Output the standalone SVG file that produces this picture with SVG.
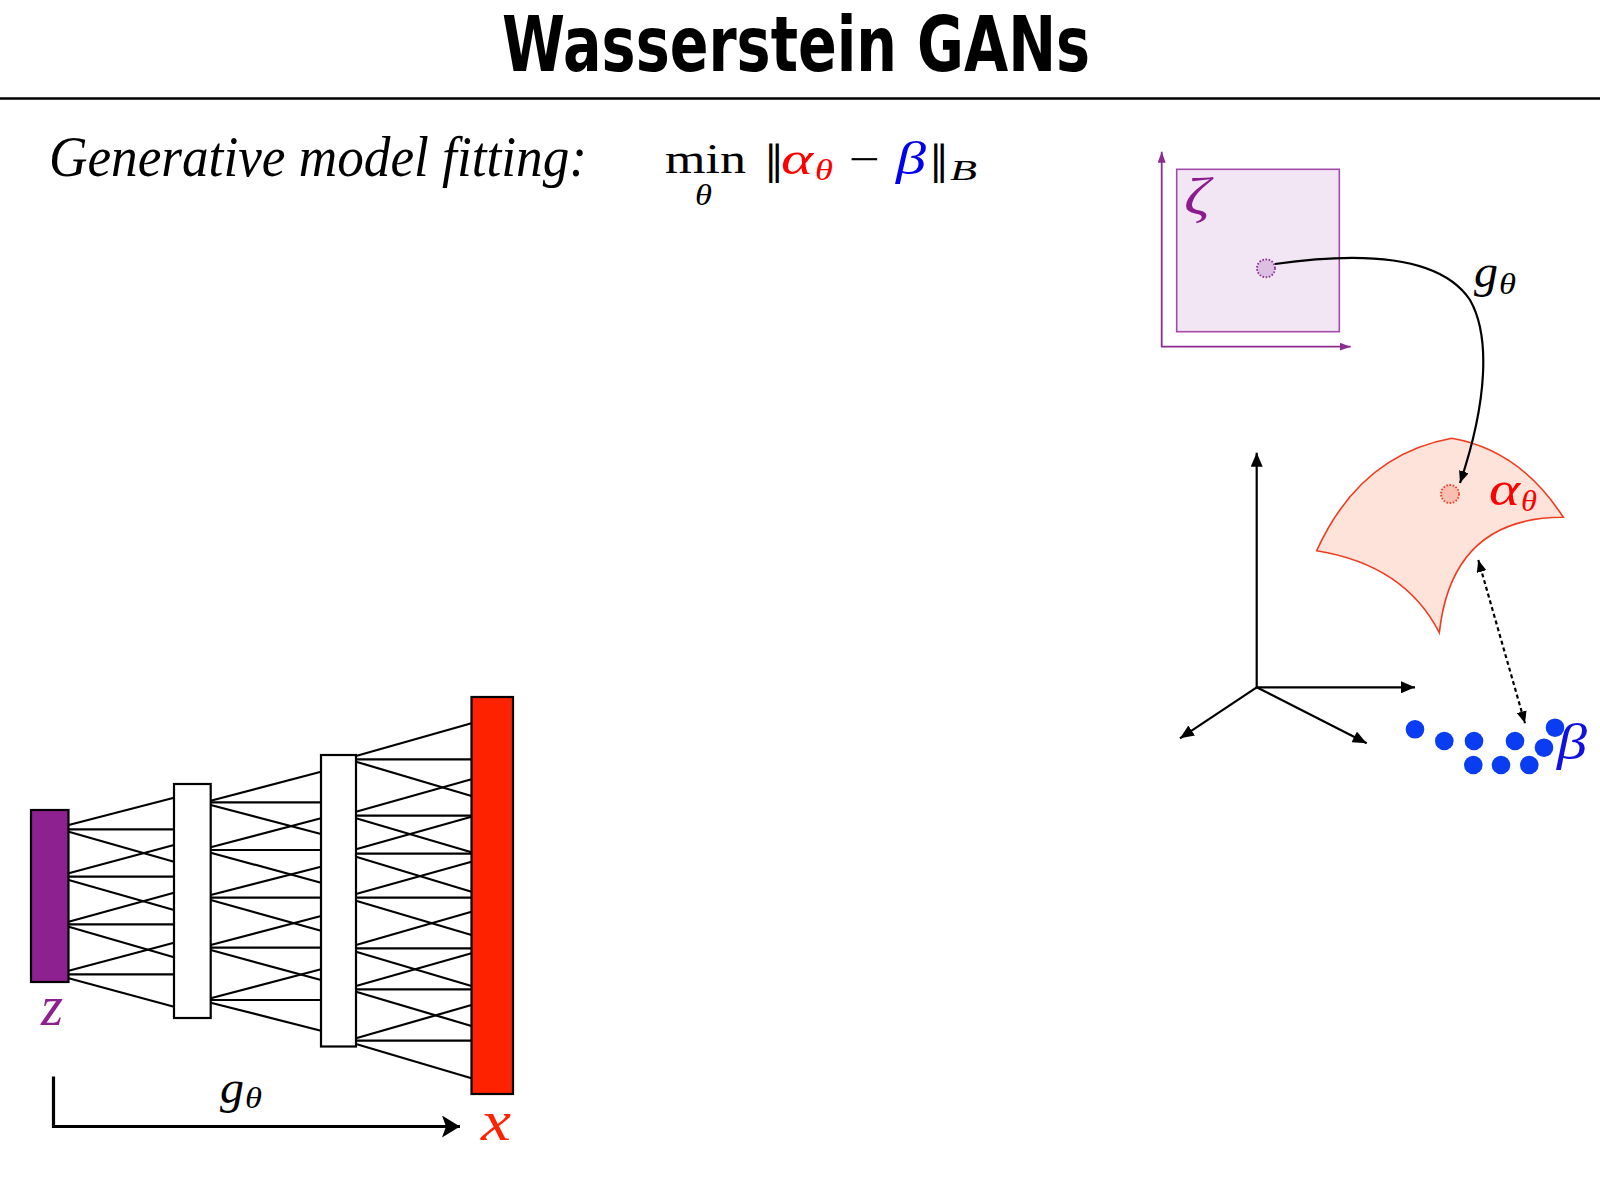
<svg xmlns="http://www.w3.org/2000/svg" width="1600" height="1200" viewBox="0 0 1600 1200">
<style>
.title{font-family:"DejaVu Sans","Open Sans",sans-serif;font-weight:bold;fill:#000}
.it{font-family:"Liberation Serif","Times New Roman",serif;font-style:italic}
.rm{font-family:"Liberation Serif","Times New Roman",serif}
.nrm{font-family:"DejaVu Serif","Liberation Serif",serif}
.net line{stroke:#000;stroke-width:2.2}
.layer{stroke:#000;stroke-width:2.2}
.ax{stroke:#000;stroke-width:2.2;fill:none}
.pax{stroke:#8B2C8F;stroke-width:1.8;fill:none}
.bdot{fill:#0A3CF2}
</style>
<defs>
<marker id="ah" viewBox="0 0 14 12" refX="14" refY="6" markerWidth="14" markerHeight="12" markerUnits="userSpaceOnUse" orient="auto">
<path d="M0,0 L14,6 L0,12 z" fill="#000"/>
</marker>
<marker id="ahs" viewBox="0 0 12 10" refX="12" refY="5" markerWidth="12" markerHeight="10" markerUnits="userSpaceOnUse" orient="auto-start-reverse">
<path d="M0,0 L12,5 L0,10 z" fill="#000"/>
</marker>
<marker id="pah" viewBox="0 0 11 8" refX="11" refY="4" markerWidth="11" markerHeight="8" markerUnits="userSpaceOnUse" orient="auto">
<path d="M0,0 L11,4 L0,8 z" fill="#8B2C8F"/>
</marker>
<marker id="bah" viewBox="0 0 18 22" refX="18" refY="11" markerWidth="18" markerHeight="22" markerUnits="userSpaceOnUse" orient="auto">
<path d="M0,0 L18,11 L0,22 L4,11 z" fill="#000"/>
</marker>
</defs>
<rect width="1600" height="1200" fill="#fff"/>

<g id="header">
<text class="title" x="502" y="71" font-size="76" textLength="588" lengthAdjust="spacingAndGlyphs">Wasserstein GANs</text>
<line x1="0" y1="98.5" x2="1600" y2="98.5" stroke="#000" stroke-width="2.6"/>
</g>

<g id="objective">
<text class="it" x="49" y="175.5" font-size="57" textLength="538" lengthAdjust="spacingAndGlyphs">Generative model fitting:</text>
<text class="rm" x="665" y="173" font-size="43" textLength="81" lengthAdjust="spacingAndGlyphs">min</text>
<text class="it" x="695" y="205" font-size="30" textLength="17" lengthAdjust="spacingAndGlyphs">θ</text>
<text class="nrm" x="764" y="174" font-size="40">‖</text>
<text class="it" x="781" y="173.5" font-size="46" fill="#F00" textLength="32" lengthAdjust="spacingAndGlyphs">α</text>
<text class="it" x="815" y="180" font-size="30" fill="#F00" textLength="18" lengthAdjust="spacingAndGlyphs">θ</text>
<text class="rm" x="849" y="173.5" font-size="44" textLength="31" lengthAdjust="spacingAndGlyphs">−</text>
<text class="it" x="896" y="173.5" font-size="46" fill="#0000F0" textLength="30" lengthAdjust="spacingAndGlyphs">β</text>
<text class="nrm" x="929" y="174" font-size="40">‖</text>
<text class="it" x="950" y="180" font-size="30" textLength="27" lengthAdjust="spacingAndGlyphs">B</text>
</g>

<g id="z-layer">
<rect class="layer" x="31" y="810" width="37.5" height="172" fill="#8E2190"/>
<text class="it" x="41" y="1025" font-size="56" fill="#8E2190" textLength="22" lengthAdjust="spacingAndGlyphs">z</text>
</g>
<g id="hidden-1"><rect class="layer" x="174" y="784" width="36.7" height="234" fill="#fff"/></g>
<g id="hidden-2"><rect class="layer" x="321" y="755" width="35" height="291.5" fill="#fff"/></g>
<g id="x-layer">
<rect class="layer" x="471.5" y="697" width="41.5" height="397" fill="#FF2200"/>
<text class="it" x="481" y="1140" font-size="58" fill="#FF2200" textLength="30" lengthAdjust="spacingAndGlyphs">x</text>
</g>
<g id="g-label-bottom">
<text class="it" x="220" y="1103" font-size="46" textLength="24" lengthAdjust="spacingAndGlyphs">g</text>
<text class="it" x="245" y="1108" font-size="30" textLength="17" lengthAdjust="spacingAndGlyphs">θ</text>
</g>

<g id="latent-space">
<line class="pax" x1="1161.7" y1="347" x2="1161.7" y2="151.7" marker-end="url(#pah)"/>
<line class="pax" x1="1161" y1="346.7" x2="1350.7" y2="346.7" marker-end="url(#pah)"/>
<rect x="1176.7" y="169.3" width="162.6" height="162.4" fill="#F3E6F4" stroke="#A34BA8" stroke-width="1.6"/>
<text class="it" x="1184" y="214" font-size="52" fill="#8B1C8F" textLength="26" lengthAdjust="spacingAndGlyphs">ζ</text>
<circle cx="1266" cy="268.3" r="9" fill="#DDBFE3" stroke="#8B2C8F" stroke-width="1.8" stroke-dasharray="1.6,1.6"/>
</g>
<g id="g-label-top">
<text class="it" x="1474" y="287" font-size="46" textLength="24" lengthAdjust="spacingAndGlyphs">g</text>
<text class="it" x="1499" y="294" font-size="30" textLength="17" lengthAdjust="spacingAndGlyphs">θ</text>
</g>

<g id="model-surface">
<path d="M1316.7,550.7 Q1360,455 1451.7,438.3 Q1520,450 1563.3,517.3 Q1452,517 1439.3,632.7 Q1405,565 1316.7,550.7 Z" fill="#FDE3DA" stroke="#F03C1E" stroke-width="1.6"/>
<circle cx="1450" cy="494" r="9" fill="#F9BFB0" stroke="#F03C1E" stroke-width="1.8" stroke-dasharray="1.6,1.6"/>
<text class="it" x="1489" y="505" font-size="48" fill="#F00" textLength="31" lengthAdjust="spacingAndGlyphs">α</text>
<text class="it" x="1521" y="511" font-size="30" fill="#F00" textLength="16" lengthAdjust="spacingAndGlyphs">θ</text>
</g>

<g id="data-space-axes">
<line class="ax" x1="1256.7" y1="688" x2="1256.7" y2="452.7" marker-end="url(#ah)"/>
<line class="ax" x1="1256" y1="687.3" x2="1415" y2="687.3" marker-end="url(#ah)"/>
<line class="ax" x1="1256.7" y1="687.3" x2="1180" y2="738.3" marker-end="url(#ah)"/>
<line class="ax" x1="1256.7" y1="687.3" x2="1366.7" y2="743.3" marker-end="url(#ah)"/>
</g>

<g id="data-points">
<circle class="bdot" cx="1415" cy="729.3" r="9.3"/>
<circle class="bdot" cx="1444.3" cy="741" r="9.3"/>
<circle class="bdot" cx="1474" cy="741" r="9.3"/>
<circle class="bdot" cx="1515" cy="741" r="9.3"/>
<circle class="bdot" cx="1555" cy="727.7" r="9.3"/>
<circle class="bdot" cx="1544" cy="747.7" r="9.3"/>
<circle class="bdot" cx="1473.3" cy="765" r="9.3"/>
<circle class="bdot" cx="1501" cy="765" r="9.3"/>
<circle class="bdot" cx="1529.3" cy="765" r="9.3"/>
<text class="it" x="1557" y="759" font-size="50" fill="#1010E0" textLength="30" lengthAdjust="spacingAndGlyphs">β</text>
</g>

<g id="connectors">
<g class="net">
<line x1="68.7" y1="825" x2="174" y2="797.7"/><line x1="68.7" y1="829.3" x2="174" y2="829.3"/><line x1="68.7" y1="831.7" x2="174" y2="861.7"/>
<line x1="68.7" y1="873.3" x2="174" y2="845"/><line x1="68.7" y1="876.7" x2="174" y2="876.7"/><line x1="68.7" y1="880" x2="174" y2="910"/>
<line x1="68.7" y1="921.7" x2="174" y2="892.7"/><line x1="68.7" y1="924.3" x2="174" y2="924.3"/><line x1="68.7" y1="926.7" x2="174" y2="957.3"/>
<line x1="68.7" y1="970.7" x2="174" y2="942.7"/><line x1="68.7" y1="974.3" x2="174" y2="974.3"/><line x1="68.7" y1="978.3" x2="174" y2="1006.7"/>

<line x1="210.7" y1="800.7" x2="321" y2="771.7"/><line x1="210.7" y1="802.3" x2="321" y2="802.3"/><line x1="210.7" y1="805" x2="321" y2="834"/>
<line x1="210.7" y1="847.3" x2="321" y2="818.3"/><line x1="210.7" y1="850" x2="321" y2="850"/><line x1="210.7" y1="852.7" x2="321" y2="882.7"/>
<line x1="210.7" y1="895" x2="321" y2="866.7"/><line x1="210.7" y1="897.7" x2="321" y2="897.7"/><line x1="210.7" y1="900" x2="321" y2="930.7"/>
<line x1="210.7" y1="945" x2="321" y2="916"/><line x1="210.7" y1="947.7" x2="321" y2="947.7"/><line x1="210.7" y1="950" x2="321" y2="980"/>
<line x1="210.7" y1="998.3" x2="321" y2="969.3"/><line x1="210.7" y1="1000" x2="321" y2="1000"/><line x1="210.7" y1="1002.7" x2="321" y2="1030.7"/>

<line x1="356" y1="756" x2="471.5" y2="723.3"/><line x1="356" y1="759.3" x2="471.5" y2="759.3"/><line x1="356" y1="761.7" x2="471.5" y2="796"/>
<line x1="356" y1="811.7" x2="471.5" y2="779.3"/><line x1="356" y1="815.7" x2="471.5" y2="815.7"/><line x1="356" y1="818.3" x2="471.5" y2="852.3"/>
<line x1="356" y1="849.3" x2="471.5" y2="816.7"/><line x1="356" y1="853.7" x2="471.5" y2="853.7"/><line x1="356" y1="856.7" x2="471.5" y2="891.7"/>
<line x1="356" y1="894" x2="471.5" y2="861.7"/><line x1="356" y1="897.7" x2="471.5" y2="897.7"/><line x1="356" y1="900.7" x2="471.5" y2="935"/>
<line x1="356" y1="945" x2="471.5" y2="911.7"/><line x1="356" y1="948.3" x2="471.5" y2="948.3"/><line x1="356" y1="951.7" x2="471.5" y2="986"/>
<line x1="356" y1="986" x2="471.5" y2="953.3"/><line x1="356" y1="989.3" x2="471.5" y2="989.3"/><line x1="356" y1="991.7" x2="471.5" y2="1026"/>
<line x1="356" y1="1038.3" x2="471.5" y2="1005"/><line x1="356" y1="1040.7" x2="471.5" y2="1040.7"/><line x1="356" y1="1044" x2="471.5" y2="1078.3"/>
</g>
<path d="M53.5,1076.5 V1126.5 H460" fill="none" stroke="#000" stroke-width="3.2" marker-end="url(#bah)"/>
<path d="M1275,264 C1360,252 1440,255 1470,300 C1490,335 1488,400 1460,483" fill="none" stroke="#000" stroke-width="2.2" marker-end="url(#ahs)"/>
<line x1="1478.3" y1="560" x2="1525" y2="723.3" stroke="#000" stroke-width="2.2" stroke-dasharray="4,3" marker-start="url(#ahs)" marker-end="url(#ahs)"/>
</g>
</svg>
